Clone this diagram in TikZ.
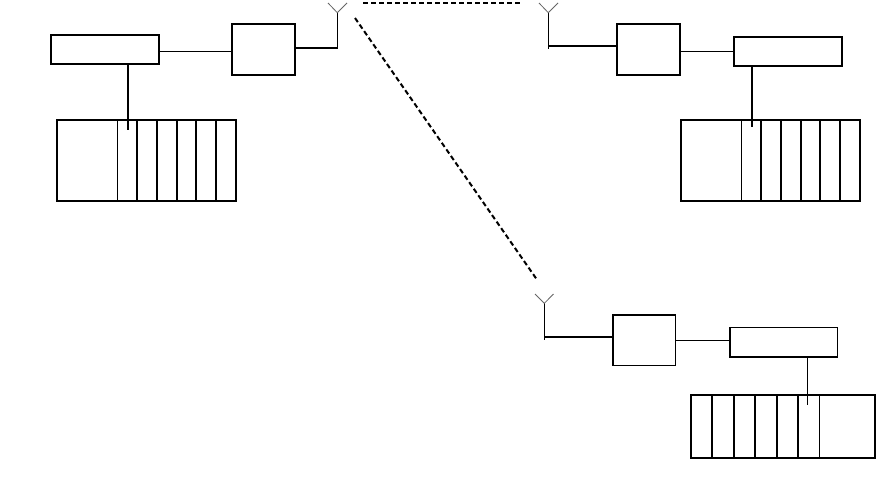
\documentclass[tikz,border=0pt]{standalone}
\tikzset{
  thinline/.style={line width=1pt,black},
  thickline/.style={line width=2pt,black},
  aerial/.style={line width=0.8pt,black!60},
  linkdash/.style={line width=2pt,black,dash pattern=on 5pt off 3pt},
  frame/.style={draw=black,line width=2pt,fill=none,rectangle,inner sep=0pt,outer sep=0pt,anchor=north west},
  thinframe/.style={frame,line width=1pt}
}
\begin{document}
\begin{tikzpicture}[x=1pt,y=-1pt]
\useasboundingbox (0,0) rectangle (876,496);
\fill[white] (0,0) rectangle (876,496);
% left station
\node[frame,minimum width=108pt,minimum height=29pt] (ctlA) at (51,35) {};
\node[frame,minimum width=63.3pt,minimum height=50.7pt] (radA) at (232,24.3) {};
\node[frame,minimum width=179pt,minimum height=81pt] (rackA) at (57,120) {};
\foreach \x in {137,157,177,196,216.3} \draw[thickline] (\x,120) -- (\x,201);
\draw[thinline] (117.3,120) -- (117.3,201);
\coordinate (ctlAe) at (159,51); \coordinate (radAw) at (232,51);
\draw[thinline] (ctlAe) -- (radAw);
\coordinate (ctlAs) at (128,64); \coordinate (rackAp) at (128,130);
\draw[thickline] (ctlAs) -- (rackAp);
\coordinate (antA) at (337.3,12.7); \coordinate (radAe) at (295.3,48);
\draw[thickline] (radAe) -- (338.3,48);
\draw[thinline] (antA) -- (337.3,48);
\draw[aerial] (328,3) -- (antA) -- (347,3);
% top right station
\node[frame,minimum width=108.5pt,minimum height=28.7pt] (ctlB) at (733.7,37.3) {};
\node[frame,minimum width=63.3pt,minimum height=50.7pt] (radB) at (616.7,24.3) {};
\node[frame,minimum width=179.3pt,minimum height=81pt] (rackB) at (681,120) {};
\foreach \x in {760.7,780.7,800.7,820,840} \draw[thickline] (\x,120) -- (\x,201);
\draw[thinline] (741.3,120) -- (741.3,201);
\draw[white,line width=1.2pt] (746,37.3) -- (841,37.3);
\draw[thinline] (746,37.5) -- (842,37.5);
\draw[thinline] (680,51.3) -- (734,51.3);
\coordinate (ctlBs) at (751.7,66); \coordinate (rackBp) at (751.7,127);
\draw[thickline] (ctlBs) -- (rackBp);
\coordinate (antB) at (548.3,12.7);
\draw[thickline] (548.3,45.7) -- (618,45.7);
\draw[thinline] (antB) -- (548.3,48.5);
\draw[aerial] (539,3) -- (antB) -- (558,3);
% bottom right station
\node[thinframe,minimum width=107.6pt,minimum height=29.7pt] (ctlC) at (729.7,327.3) {};
\draw[thickline] (729.7,327.3) -- (729.7,357) -- (837.3,357);
\node[thinframe,minimum width=63pt,minimum height=50.6pt] (radC) at (612.7,314.7) {};
\draw[thickline] (612.7,365.3) -- (612.7,314.7) -- (675.7,314.7);
\node[frame,minimum width=184.5pt,minimum height=63pt] (rackC) at (690.8,395) {};
\foreach \x in {712,733.7,755,777,798.3} \draw[thickline] (\x,395) -- (\x,458);
\draw[thinline] (819.3,395) -- (819.3,458);
\draw[thinline] (675.7,340.3) -- (729.7,340.3);
\coordinate (ctlCs) at (807.3,357); \coordinate (rackCp) at (807.3,405);
\draw[thinline] (ctlCs) -- (rackCp);
\coordinate (antC) at (544.3,303.3);
\draw[thickline] (544.3,337) -- (612.7,337);
\draw[thinline] (antC) -- (544.3,339.5);
\draw[aerial] (535,294) -- (antC) -- (553.5,294);
% radio links
\coordinate (linkAB1) at (363,2.7); \coordinate (linkAB2) at (521,2.7);
\draw[linkdash] (linkAB1) -- (linkAB2);
\coordinate (linkAC1) at (355,18); \coordinate (linkAC2) at (536.5,279);
\draw[linkdash] (linkAC1) -- (linkAC2);
\end{tikzpicture}
\end{document}
